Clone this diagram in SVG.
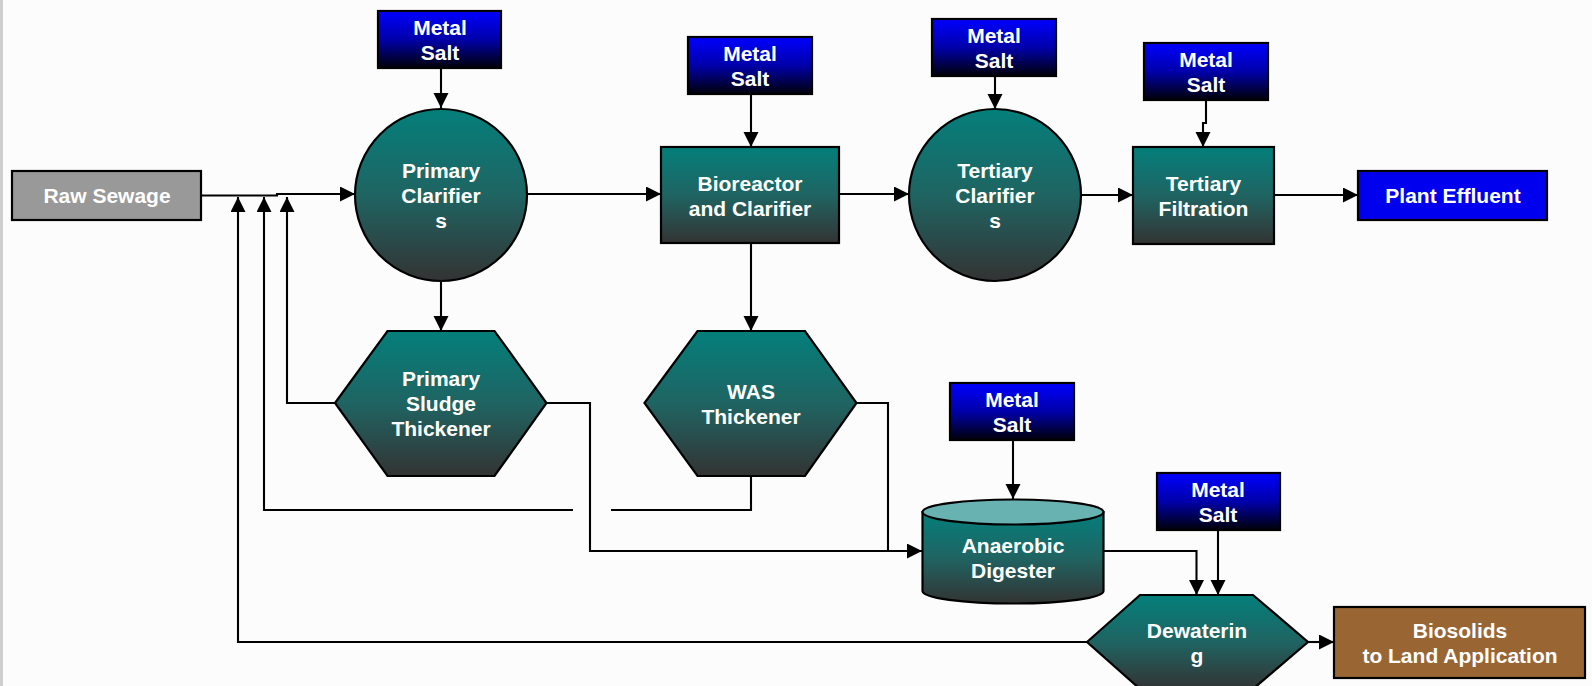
<svg xmlns="http://www.w3.org/2000/svg" width="1592" height="686" viewBox="0 0 1592 686">
<defs>
<linearGradient id="teal" x1="0" y1="0" x2="0" y2="1">
<stop offset="0" stop-color="#047f7b"/>
<stop offset="0.5" stop-color="#1f6462"/>
<stop offset="1" stop-color="#333333"/>
</linearGradient>
<linearGradient id="blue" x1="0" y1="0" x2="0" y2="1">
<stop offset="0" stop-color="#0000ff"/>
<stop offset="0.5" stop-color="#0000aa"/>
<stop offset="1" stop-color="#000008"/>
</linearGradient>
<marker id="arr" markerUnits="userSpaceOnUse" markerWidth="16" markerHeight="16" refX="15" refY="7.5" orient="auto">
<path d="M0,0 L15,7.5 L0,15 z" fill="#000"/>
</marker>
</defs>
<style>
.n{stroke:#000;stroke-width:2.2}
.t{fill:url(#teal)}
.b{fill:url(#blue)}
text{font-family:"Liberation Sans",Arial,sans-serif;font-weight:bold;font-size:21px;fill:#fff;text-anchor:middle}
.c{fill:none;stroke:#000;stroke-width:2.1}
.a{marker-end:url(#arr)}
</style>
<rect x="0" y="0" width="1592" height="686" fill="#fcfcfc"/>
<rect x="0" y="0" width="3" height="686" fill="#cfcfcf"/>

<g id="connectors">
<path class="c a" d="M201,195.5 H277 V194 H355"/>
<path class="c a" d="M441,68 V108"/>
<path class="c a" d="M527,194 H661"/>
<path class="c a" d="M751,94 V147"/>
<path class="c a" d="M839,194 H909"/>
<path class="c a" d="M995,76 V109"/>
<path class="c a" d="M1081,195 H1133"/>
<path class="c a" d="M1206,100 V123 H1203 V147"/>
<path class="c a" d="M1274,195 H1358"/>
<path class="c a" d="M441,281 V331"/>
<path class="c a" d="M751,243 V331"/>
<path class="c a" d="M335,403 H287 V197"/>
<path class="c" d="M751,476 V510 H611"/>
<path class="c a" d="M573,510 H264 V197"/>
<path class="c a" d="M546,403 H590 V551 H922"/>
<path class="c" d="M856,403 H888 V551"/>
<path class="c a" d="M1013,440 V499"/>
<path class="c a" d="M1103,551 H1196.5 V595"/>
<path class="c a" d="M1218,530 V595"/>
<path class="c a" d="M1308,642 H1334"/>
<path class="c a" d="M1087,642 H238 V197"/>
</g>

<g id="raw-sewage">
<rect class="n" x="12" y="171" width="189" height="49" fill="#999999"/>
<text x="107" y="203">Raw Sewage</text>
</g>

<g id="metal-salt-1">
<rect class="n b" x="378" y="11" width="123" height="57"/>
<text x="440" y="35">Metal</text><text x="440" y="60">Salt</text>
</g>

<g id="primary-clarifiers">
<circle class="n t" cx="441" cy="195" r="86"/>
<text x="441" y="178">Primary</text><text x="441" y="203">Clarifier</text><text x="441" y="228">s</text>
</g>

<g id="metal-salt-2">
<rect class="n b" x="688" y="37" width="124" height="57"/>
<text x="750" y="61">Metal</text><text x="750" y="86">Salt</text>
</g>

<g id="bioreactor">
<rect class="n t" x="661" y="147" width="178" height="96"/>
<text x="750" y="191">Bioreactor</text><text x="750" y="216">and Clarifier</text>
</g>

<g id="metal-salt-3">
<rect class="n b" x="932" y="19" width="124" height="57"/>
<text x="994" y="43">Metal</text><text x="994" y="68">Salt</text>
</g>

<g id="tertiary-clarifiers">
<circle class="n t" cx="995" cy="195" r="86"/>
<text x="995" y="178">Tertiary</text><text x="995" y="203">Clarifier</text><text x="995" y="228">s</text>
</g>

<g id="metal-salt-4">
<rect class="n b" x="1144" y="43" width="124" height="57"/>
<text x="1206" y="67">Metal</text><text x="1206" y="92">Salt</text>
</g>

<g id="tertiary-filtration">
<rect class="n t" x="1133" y="147" width="141" height="97"/>
<text x="1203.5" y="191">Tertiary</text><text x="1203.5" y="216">Filtration</text>
</g>

<g id="plant-effluent">
<rect class="n" x="1358" y="171" width="189" height="49" fill="#0000ee"/>
<text x="1453" y="203">Plant Effluent</text>
</g>

<g id="primary-sludge-thickener">
<polygon class="n t" points="335,403 387.5,331 494.5,331 546.5,403 494.5,476 387.5,476"/>
<text x="441" y="386">Primary</text><text x="441" y="411">Sludge</text><text x="441" y="436">Thickener</text>
</g>

<g id="was-thickener">
<polygon class="n t" points="644.5,403 697.5,331 805,331 856.5,403 805,476 697.5,476"/>
<text x="751" y="399">WAS</text><text x="751" y="424">Thickener</text>
</g>

<g id="metal-salt-5">
<rect class="n b" x="950" y="383" width="124" height="57"/>
<text x="1012" y="407">Metal</text><text x="1012" y="432">Salt</text>
</g>

<g id="anaerobic-digester">
<path class="n t" d="M922.5,512 V591 A90.5,12.5 0 0 0 1103.5,591 V512 Z"/>
<ellipse class="n" cx="1013" cy="512" rx="90.5" ry="12.5" fill="#68b2b1"/>
<text x="1013" y="553">Anaerobic</text><text x="1013" y="578">Digester</text>
</g>

<g id="metal-salt-6">
<rect class="n b" x="1157" y="473" width="123" height="57"/>
<text x="1218" y="497">Metal</text><text x="1218" y="522">Salt</text>
</g>

<g id="dewatering">
<polygon class="n t" points="1087,642 1140,595 1253,595 1308,642 1253,689 1140,689"/>
<text x="1197" y="638">Dewaterin</text><text x="1197" y="663">g</text>
</g>

<g id="biosolids">
<rect class="n" x="1334" y="607" width="251" height="71" fill="#996633"/>
<text x="1460" y="638">Biosolids</text><text x="1460" y="663">to Land Application</text>
</g>
</svg>
